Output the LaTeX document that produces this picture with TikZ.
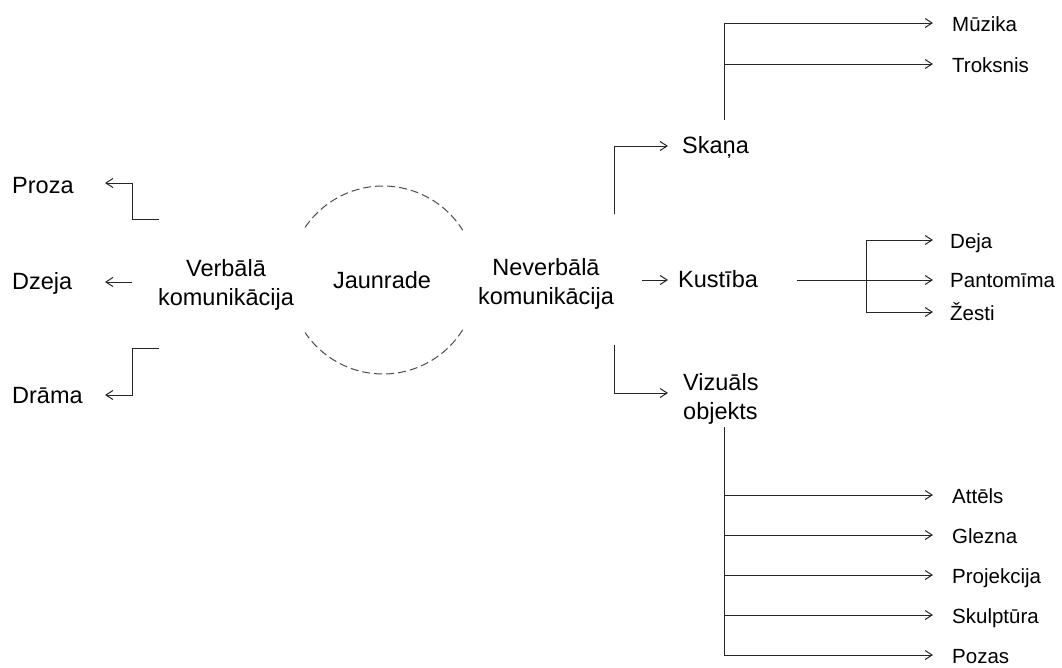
\documentclass[tikz,border=0pt]{standalone}
\usepackage{fontspec}
\setmainfont{Liberation Sans}
\usetikzlibrary{arrows.meta}
\begin{document}
\begin{tikzpicture}[x=1pt,y=-1pt,
  main/.style={font=\fontsize{23.5}{29}\selectfont, inner sep=0pt, align=center},
  leaf/.style={font=\fontsize{20.5}{24}\selectfont, inner sep=0pt, anchor=base west},
  link/.style={draw=black!85, line width=1pt},
  arr/.style={link, -{Straight Barb[length=7pt,width=9pt]}},
  ring/.style={draw=black!70, line width=1pt, dash pattern=on 8pt off 4pt}]
\useasboundingbox (0,0) rectangle (1062,667);

% --- centre: the two kinds of communication around "Jaunrade"
% (base anchor of a two-line node sits on its last line)
\node[main, anchor=base] (verb) at (226,305) {Verbālā\\komunikācija};
\node[main, anchor=base] (jaun) at (382,288) {Jaunrade};
\node[main, anchor=base] (never) at (546,304) {Neverbālā\\komunikācija};
\coordinate (ringc) at (383,280);
\draw[ring] (ringc) ++(32:94) arc[start angle=32, end angle=146, radius=94];
\draw[ring] (ringc) ++(214:94) arc[start angle=214, end angle=328, radius=94];

% --- verbal branch
\node[main, anchor=base west] (proza) at (12,193) {Proza};
\node[main, anchor=base west] (dzeja) at (12,289) {Dzeja};
\node[main, anchor=base west] (drama) at (12,403) {Drāma};
\coordinate (pz-a) at (159,219); \coordinate (pz-tip) at (105,183);
\coordinate (dz-a) at (132,282); \coordinate (dz-tip) at (105,282);
\coordinate (dr-a) at (159,348); \coordinate (dr-tip) at (105,395);
\draw[arr] (pz-a) -| (132,183) -- (pz-tip);
\draw[arr] (dz-a) -- (dz-tip);
\draw[arr] (dr-a) -| (132,395) -- (dr-tip);

% --- non-verbal branch
\node[main, anchor=base west] (skana) at (682,153) {Skaņa};
\node[main, anchor=base west] (kust) at (678,287) {Kustība};
\node[main, anchor=base west, align=left] (viz) at (683,419) {Vizuāls\\objekts};
\coordinate (sk-a) at (614,214); \coordinate (sk-tip) at (668,146);
\coordinate (ku-a) at (642,280); \coordinate (ku-tip) at (668,280);
\coordinate (vi-a) at (614,345); \coordinate (vi-tip) at (668,393);
\draw[arr] (sk-a) |- (sk-tip);
\draw[arr] (ku-a) -- (ku-tip);
\draw[arr] (vi-a) |- (vi-tip);

% --- sound
\node[leaf] (muz) at (952,31) {Mūzika};
\node[leaf] (trok) at (952,72) {Troksnis};
\coordinate (snd-root) at (724,120);
\draw[arr] (snd-root) |- (933,23);
\draw[arr] (724,64) -- (933,64);

% --- movement
\node[leaf] (deja) at (950,248) {Deja};
\node[leaf] (pant) at (950,287) {Pantomīma};
\node[leaf] (zest) at (950,320) {Žesti};
\coordinate (mv-a) at (797,280); \coordinate (mv-fork) at (866,280);
\draw[link] (mv-a) -- (mv-fork);
\draw[arr] (mv-fork) |- (933,240);
\draw[arr] (mv-fork) -- (933,280);
\draw[arr] (mv-fork) |- (933,312);

% --- visual object
\node[leaf] (att) at (952,503) {Attēls};
\node[leaf] (glez) at (952,543) {Glezna};
\node[leaf] (proj) at (952,583) {Projekcija};
\node[leaf] (skul) at (952,623) {Skulptūra};
\node[leaf] (poz) at (952,663) {Pozas};
\coordinate (vo-top) at (724,427);
\draw[link] (vo-top) -- (724,655);
\foreach \yy in {495,535,575,615,655}
  \draw[arr] (724,\yy) -- (933,\yy);
\end{tikzpicture}
\end{document}
